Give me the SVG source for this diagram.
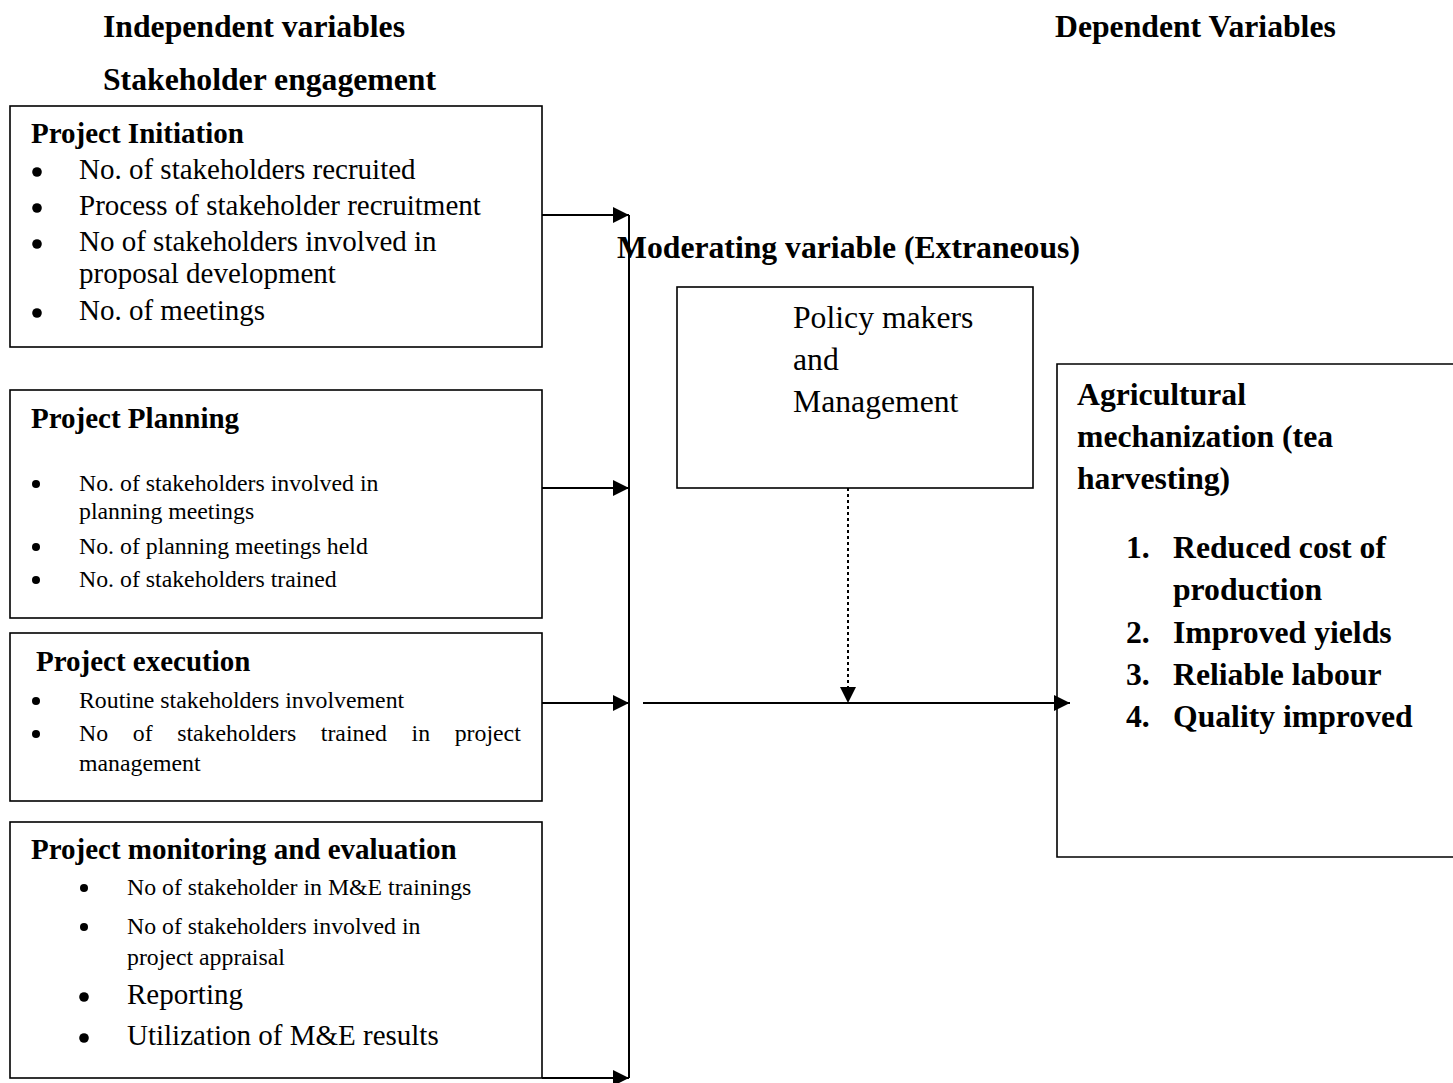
<svg xmlns="http://www.w3.org/2000/svg" width="1453" height="1083" viewBox="0 0 1453 1083">
<defs>
<style>
text{font-family:"Liberation Serif","Times New Roman",serif;fill:#000}
.t{font-size:31.7px;font-weight:bold}
.h{font-size:29px;font-weight:bold}
.m{font-size:29px}
.s{font-size:23.8px}
.b{font-size:31.7px;font-weight:bold}
.r{font-size:31.7px}
.box{fill:#fff;stroke:#000;stroke-width:1.6}
.ln{fill:none;stroke:#000;stroke-width:2}
</style>
<marker id="ah" markerUnits="userSpaceOnUse" markerWidth="16" markerHeight="16" viewBox="0 0 16 16" refX="16" refY="8" orient="auto">
<path d="M0,0 L16,8 L0,16 Z" fill="#000"/>
</marker>
</defs>
<rect width="1453" height="1083" fill="#fff"/>

<g id="titles">
<text class="t" x="103" y="37">Independent variables</text>
<text class="t" x="103" y="90">Stakeholder engagement</text>
<text class="t" x="1055" y="37">Dependent Variables</text>
<text class="t" x="617" y="258">Moderating variable (Extraneous)</text>
</g>

<g id="initiation">
<rect class="box" x="10" y="106" width="532" height="241"/>
<text class="h" x="31" y="143">Project Initiation</text>
<circle cx="37" cy="172" r="4.8"/>
<text class="m" x="79" y="179">No. of stakeholders recruited</text>
<circle cx="37" cy="208" r="4.8"/>
<text class="m" x="79" y="215">Process of stakeholder recruitment</text>
<circle cx="37" cy="244" r="4.8"/>
<text class="m" x="79" y="251">No of stakeholders involved in</text>
<text class="m" x="79" y="283">proposal development</text>
<circle cx="37" cy="313" r="4.8"/>
<text class="m" x="79" y="320">No. of meetings</text>
</g>

<g id="planning">
<rect class="box" x="10" y="390" width="532" height="228"/>
<text class="h" x="31" y="428">Project Planning</text>
<circle cx="36" cy="484" r="4"/>
<text class="s" x="79" y="491">No. of stakeholders involved in</text>
<text class="s" x="79" y="519">planning meetings</text>
<circle cx="36" cy="547" r="4"/>
<text class="s" x="79" y="554">No. of planning meetings held</text>
<circle cx="36" cy="580" r="4"/>
<text class="s" x="79" y="587">No. of stakeholders trained</text>
</g>

<g id="execution">
<rect class="box" x="10" y="633" width="532" height="168"/>
<text class="h" x="36" y="671">Project execution</text>
<circle cx="36" cy="701" r="4"/>
<text class="s" x="79" y="708">Routine stakeholders involvement</text>
<circle cx="36" cy="734" r="4"/>
<text class="s" x="79" y="741" word-spacing="18.7">No of stakeholders trained in project</text>
<text class="s" x="79" y="771">management</text>
</g>

<g id="monitoring">
<rect class="box" x="10" y="822" width="532" height="256"/>
<text class="h" x="31" y="859">Project monitoring and evaluation</text>
<circle cx="84" cy="888" r="4"/>
<text class="s" x="127" y="895">No of stakeholder in M&amp;E trainings</text>
<circle cx="84" cy="927" r="4"/>
<text class="s" x="127" y="934">No of stakeholders involved in</text>
<text class="s" x="127" y="965">project appraisal</text>
<circle cx="84" cy="997" r="4.8"/>
<text class="m" x="127" y="1004">Reporting</text>
<circle cx="84" cy="1038" r="4.8"/>
<text class="m" x="127" y="1045">Utilization of M&amp;E results</text>
</g>

<g id="moderating">
<rect class="box" x="677" y="287" width="356" height="201"/>
<text class="r" x="793" y="328">Policy makers</text>
<text class="r" x="793" y="370">and</text>
<text class="r" x="793" y="412">Management</text>
</g>

<g id="dependent">
<path class="box" d="M1453,364 L1057,364 L1057,857 L1453,857"/>
<text class="b" x="1077" y="405">Agricultural</text>
<text class="b" x="1077" y="447">mechanization (tea</text>
<text class="b" x="1077" y="489">harvesting)</text>
<text class="b" x="1126" y="558">1.</text>
<text class="b" x="1173" y="558">Reduced cost of</text>
<text class="b" x="1173" y="600">production</text>
<text class="b" x="1126" y="643">2.</text>
<text class="b" x="1173" y="643">Improved yields</text>
<text class="b" x="1126" y="685">3.</text>
<text class="b" x="1173" y="685">Reliable labour</text>
<text class="b" x="1126" y="727">4.</text>
<text class="b" x="1173" y="727">Quality improved</text>
</g>

<g id="connectors">
<line class="ln" x1="629" y1="215" x2="629" y2="1078"/>
<line class="ln" x1="542" y1="215" x2="629" y2="215" marker-end="url(#ah)"/>
<line class="ln" x1="542" y1="488" x2="629" y2="488" marker-end="url(#ah)"/>
<line class="ln" x1="542" y1="703" x2="629" y2="703" marker-end="url(#ah)"/>
<line class="ln" x1="542" y1="1078" x2="629" y2="1078" marker-end="url(#ah)"/>
<line class="ln" x1="643" y1="703" x2="1070" y2="703" stroke-width="2.5" marker-end="url(#ah)"/>
<line class="ln" x1="848" y1="488" x2="848" y2="703" stroke-width="2.4" stroke-dasharray="3,3" marker-end="url(#ah)"/>
</g>
</svg>
